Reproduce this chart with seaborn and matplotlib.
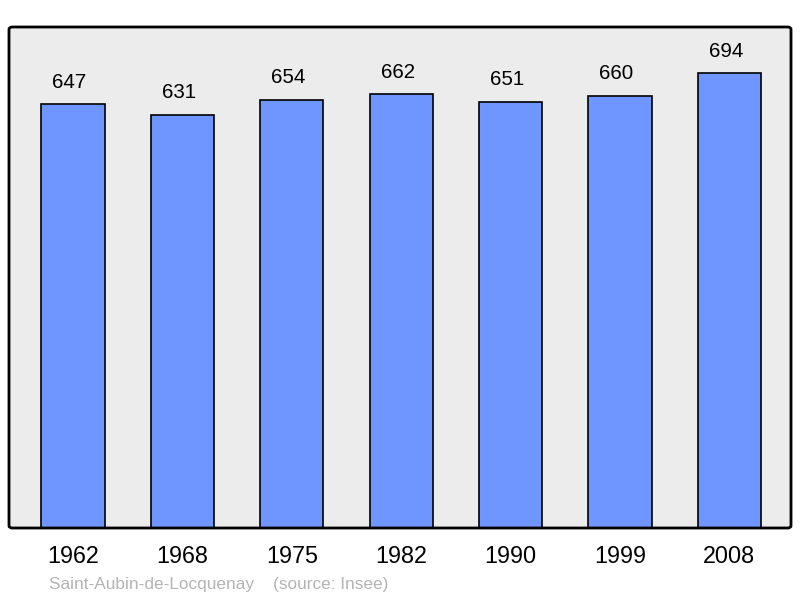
import matplotlib
matplotlib.use("Agg")
import matplotlib.pyplot as plt
from matplotlib.patches import FancyBboxPatch
import pandas as pd
import seaborn as sns

# ----------------------------------------------------------------------------------
# Data

years = ["1962", "1968", "1975", "1982", "1990", "1999", "2008"]
population = [647, 631, 654, 662, 651, 660, 694]
commune = "Saint-Aubin-de-Locquenay"
source = "(source: Insee)"

df = pd.DataFrame({"year": years, "population": population})

# ----------------------------------------------------------------------------------
# Plot

sns.set_style("white")
plt.rcParams["font.family"] = ["Liberation Sans", "DejaVu Sans"]

fig = plt.figure(figsize=(8, 5.98), dpi=100)
ax = fig.add_axes([9 / 800, 70 / 598, 782 / 800, 501 / 598])
ax.set_facecolor("#ececec")

sns.barplot(
    data=df,
    x="year",
    y="population",
    color="#6f96ff",
    saturation=1,
    width=0.576,
    edgecolor="black",
    linewidth=1.2,
    ax=ax,
)

for i, v in enumerate(population):
    ax.annotate(str(v), (i, v), xytext=(-2.5, 16), textcoords="offset points",
                ha="center", va="center", fontsize=14.8, color="black")

ax.set_xlim(-0.585, 6.563)
ax.set_ylim(0, 765)
ax.set_yticks([])
ax.set_xlabel("")
ax.set_ylabel("")
ax.tick_params(axis="x", length=0, labelsize=16.8, pad=12, labelcolor="black")
for s in ax.spines.values():
    s.set_visible(False)

# rounded frame
frame = FancyBboxPatch(
    (9 / 800, 70 / 598), 782 / 800, 501 / 598,
    boxstyle="round,pad=0,rounding_size=0.004",
    transform=fig.transFigure, facecolor="none",
    edgecolor="black", linewidth=2, zorder=10,
)
fig.patches.append(frame)

fig.text(49 / 800, 1 - 584 / 598, commune + "    " + source,
         fontsize=12.4, color="#b4b4b4", ha="left", va="center")

fig.savefig("out.png", dpi=100)
